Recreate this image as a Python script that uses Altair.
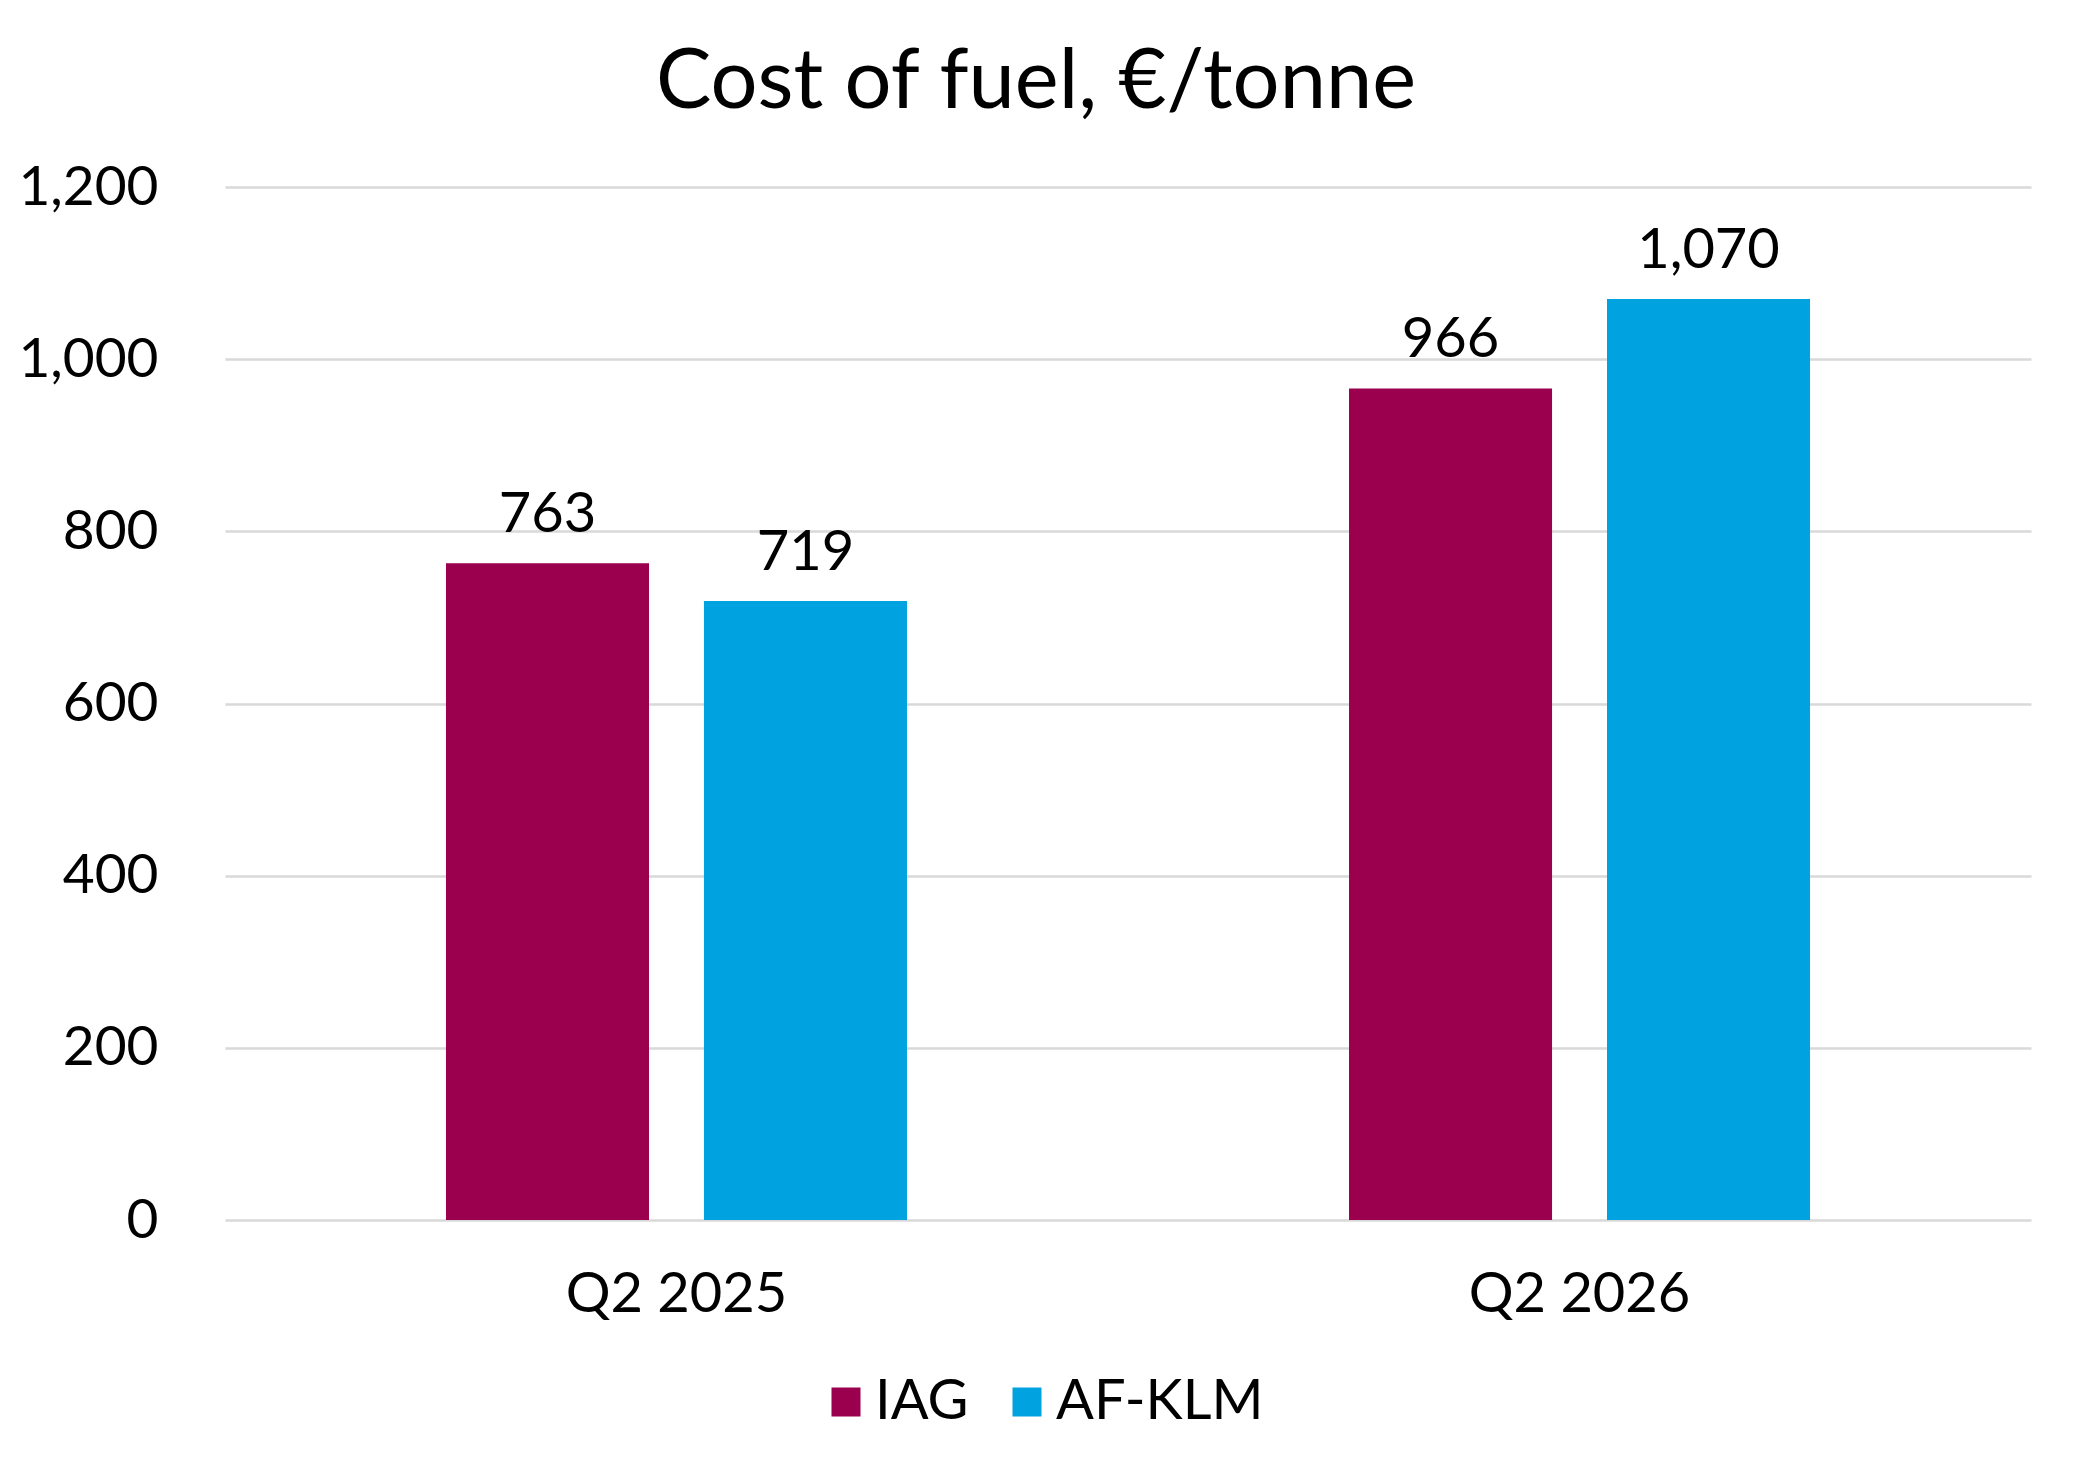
import altair as alt
import pandas as pd

quarters = ["Q2 2025", "Q2 2025", "Q2 2026", "Q2 2026"]
airlines = ["IAG", "AF-KLM", "IAG", "AF-KLM"]
values = [763, 719, 966, 1070]
series_order = ["IAG", "AF-KLM"]
series_colors = ["#9B004F", "#00A2DF"]
y_ticks = [0, 200, 400, 600, 800, 1000, 1200]

df = pd.DataFrame({"quarter": quarters, "airline": airlines, "value": values})

FONT = "Lato"

base = alt.Chart(df).encode(
    x=alt.X(
        "quarter:N",
        title=None,
        scale=alt.Scale(paddingInner=0.4895, paddingOuter=0.2447),
        axis=alt.Axis(
            labelAngle=0,
            labelFontSize=56,
            labelFont=FONT,
            labelColor="#000000",
            labelPadding=47,
            labelLimit=0,
            ticks=False,
            domain=False,
            grid=False,
        ),
    ),
    xOffset=alt.XOffset(
        "airline:N", sort=series_order, scale=alt.Scale(paddingInner=0.213)
    ),
    y=alt.Y(
        "value:Q",
        title=None,
        scale=alt.Scale(domain=[0, 1200], nice=False),
        axis=alt.Axis(
            values=y_ticks,
            format=",d",
            labelFontSize=55,
            labelFont=FONT,
            labelColor="#000000",
            labelPadding=67,
            ticks=False,
            domain=False,
            grid=True,
            gridColor="#D9D9D9",
            gridWidth=2.5,
        ),
    ),
)

bars = base.mark_bar().encode(
    color=alt.Color(
        "airline:N",
        sort=series_order,
        scale=alt.Scale(domain=series_order, range=series_colors),
        legend=alt.Legend(
            title=None,
            orient="none",
            direction="horizontal",
            legendX=593,
            legendY=1187,
            symbolType="square",
            symbolSize=841,
            symbolStrokeWidth=0,
            labelFontSize=56,
            labelFont=FONT,
            labelColor="#000000",
            labelLimit=0,
            labelOffset=1,
            columnPadding=30,
        ),
    )
)

labels = base.mark_text(
    font=FONT, fontSize=56, color="#000000", baseline="alphabetic", dy=-31
).encode(text=alt.Text("value:Q", format=",d"))

chart = (
    alt.layer(bars, labels)
    .properties(
        width=1806,
        height=1033,
        title=alt.TitleParams(
            "Cost of fuel, €/tonne",
            font=FONT,
            fontSize=83,
            fontWeight="normal",
            color="#000000",
            anchor="middle",
            frame="group",
            baseline="alphabetic",
            offset=-31,
            dx=-92,
        ),
        autosize=alt.AutoSizeParams(type="none"),
        padding={"left": 217, "top": 179, "right": 40, "bottom": 238},
    )
    .configure(font=FONT)
    .configure_view(strokeWidth=0, stroke="transparent")
)

chart.save("out.html", embed_options={"renderer": "svg", "actions": False})
